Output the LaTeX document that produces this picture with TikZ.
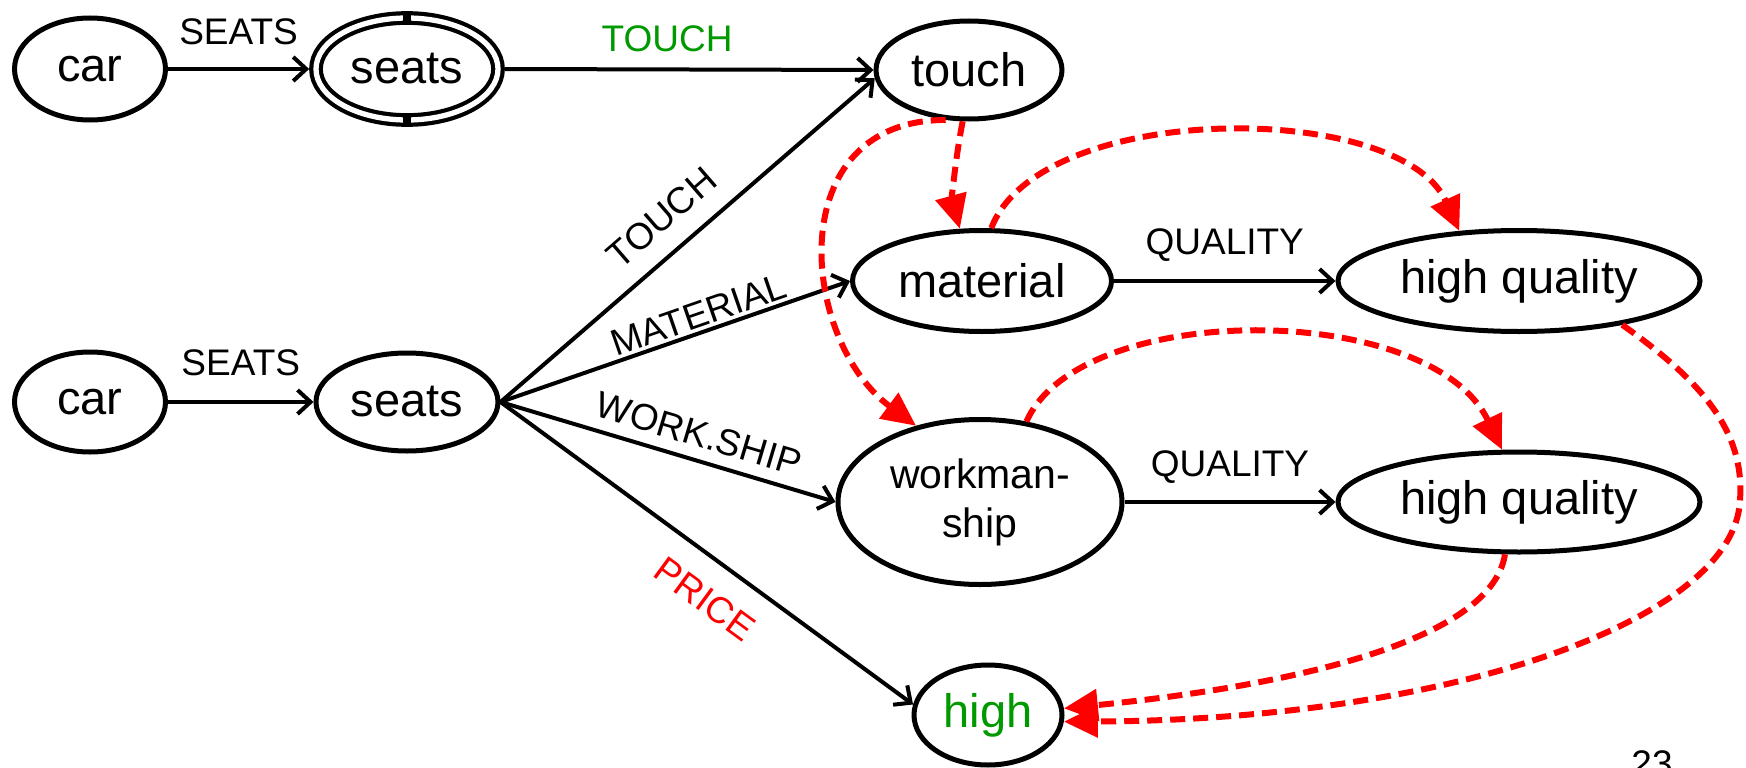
\documentclass[tikz,border=0pt]{standalone}
\usepackage{fontspec}
\setmainfont{Liberation Sans}
\usetikzlibrary{shapes.geometric,arrows.meta}
\definecolor{dgreen}{RGB}{0,153,0}
\definecolor{pred}{RGB}{255,0,0}
\begin{document}
\begin{tikzpicture}[x=1pt,y=-1pt,
  st/.style={ellipse, draw, line width=5pt, inner sep=0pt, outer sep=2.5pt, font=\fontsize{47}{52}\selectfont},
  lab/.style={font=\fontsize{37}{42}\selectfont, inner sep=0pt},
  edgearrow/.style={line width=4pt, -{Straight Barb[length=13pt,width=24pt]}},
  rdash/.style={draw=pred, line width=6pt, dash pattern=on 15pt off 8pt, -{Triangle[length=34pt,width=31pt]}}]
\clip (0,0) rectangle (1746,768);
% nodes
\node[st, minimum width=151pt, minimum height=102pt] (car1) at (90,69) {car};
\node[st, double, double distance=5.3pt, line width=4.2pt, outer sep=6.85pt, minimum width=182pt, minimum height=102pt] (seats1) at (407,69) {seats};
\node[st, minimum width=186pt, minimum height=98pt] (touch) at (969,70) {touch};
\node[st, minimum width=259pt, minimum height=101pt] (material) at (982,281) {material};
\node[st, minimum width=362pt, minimum height=101pt] (hq1) at (1519,281) {high quality};
\node[st, minimum width=151pt, minimum height=100pt] (car2) at (90,402) {car};
\node[st, minimum width=182pt, minimum height=98pt] (seats2) at (407,402) {seats};
\node[st, minimum width=284pt, minimum height=165pt, align=center, font=\fontsize{41}{49}\selectfont] (ws) at (980,502) {workman-\\ship};
\node[st, minimum width=362pt, minimum height=100pt] (hq2) at (1519,502) {high quality};
\node[st, minimum width=148pt, minimum height=100pt, text=dgreen] (high) at (988,715) {high};
\node[lab, anchor=north] (pg) at (1652,750) {23};
% ticks on double ellipse
\fill (seats1.center) ++(-4,-58) rectangle ++(8,14);
\fill (seats1.center) ++(-4,44) rectangle ++(8,14);
% black edges
\draw[edgearrow] (car1.east) -- node[lab, yshift=37pt]{SEATS} (seats1.west);
\draw[edgearrow] (seats1.east) -- node[lab, text=dgreen, pos=0.44, yshift=31pt]{TOUCH} (touch.west);
\draw[edgearrow] (seats2.east) -- node[lab, sloped, pos=0.49, above=19pt]{TOUCH} (touch.185);
\draw[edgearrow] (seats2.east) -- node[lab, sloped, pos=0.584, above=3pt]{MATERIAL} (material.west);
\draw[edgearrow] (seats2.east) -- node[lab, sloped, pos=0.57, above=11pt]{WORK.SHIP} (ws.west);
\draw[edgearrow] (seats2.east) -- node[lab, sloped, pos=0.55, below=23pt, text=pred]{PRICE} (high.172);
\draw[edgearrow] (car2.east) -- node[lab, yshift=39pt]{SEATS} (seats2.west);
\draw[edgearrow] (material.east) -- node[lab, yshift=36pt]{QUALITY} (hq1.west);
\draw[edgearrow] (ws.east) -- node[lab, yshift=35pt]{QUALITY} (hq2.west);
% red dashed
\draw[rdash] (touch.-97) .. controls (955,160) and (952,200) .. (material.113);
\draw[rdash] (touch.-115) .. controls (780,120) and (800,340) .. (ws.130);
\draw[rdash] (material.80) .. controls (1040,100) and (1400,100) .. (hq1.140);
\draw[rdash] (ws.60) .. controls (1080,300) and (1430,300) .. (hq2.108);
\draw[rdash] (hq2.-105) .. controls (1490,650) and (1250,690) .. (high.5);
\draw[rdash] (hq1.-23) .. controls (1700,380) and (1745,430) .. (1740,500) .. controls (1735,620) and (1450,720) .. (high.-5);
\end{tikzpicture}
\end{document}
